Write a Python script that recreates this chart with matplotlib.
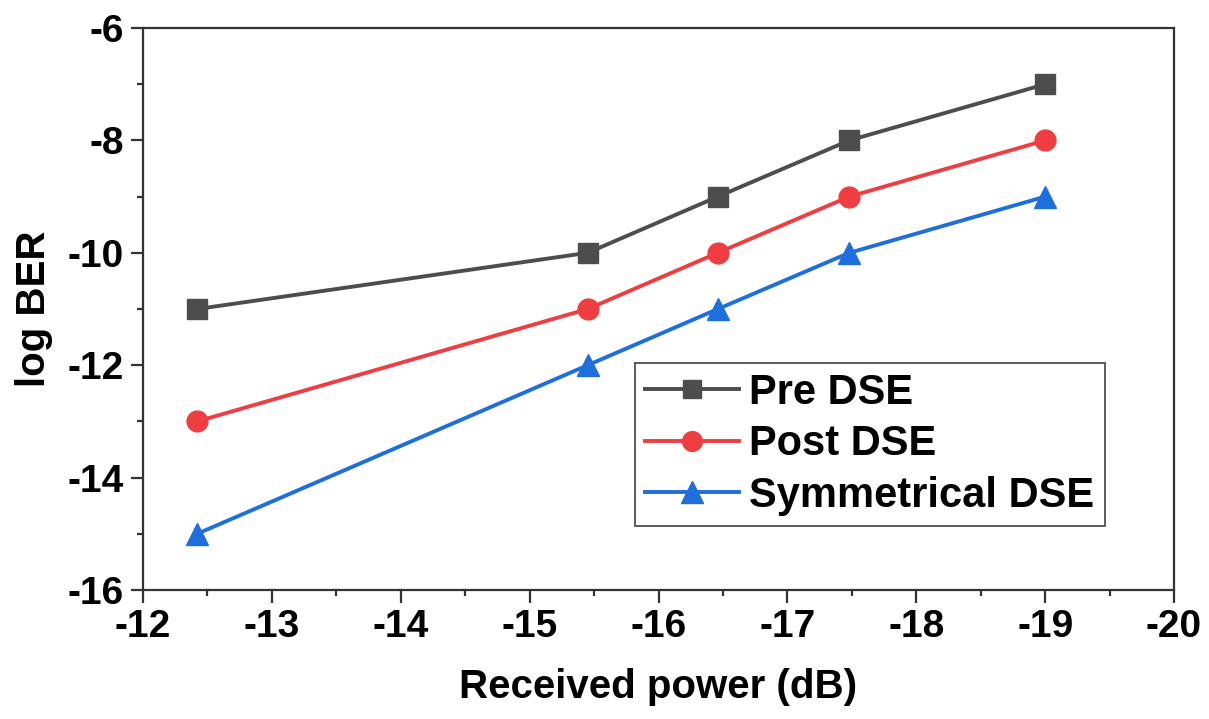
import matplotlib
matplotlib.use("Agg")
import matplotlib.pyplot as plt
from matplotlib.ticker import MultipleLocator

plt.rcParams['font.family'] = ['Liberation Sans', 'DejaVu Sans']
plt.rcParams['font.weight'] = 'bold'
plt.rcParams['axes.unicode_minus'] = False

received_power = [-12.42, -15.45, -16.46, -17.48, -19.0]
pre_dse = [-11, -10, -9, -8, -7]
post_dse = [-13, -11, -10, -9, -8]
sym_dse = [-15, -12, -11, -10, -9]
series_labels = ["Pre DSE", "Post DSE", "Symmetrical DSE"]

fig = plt.figure(figsize=(12.09, 7.19), dpi=100)
ax = fig.add_axes([0.1183, 0.1794, 0.8528, 0.7816])

ax.plot(received_power, pre_dse, color='#4d4d4d', lw=2.8, marker='s', ms=14,
        label=series_labels[0])
ax.plot(received_power, post_dse, color='#ef3e42', lw=2.8, marker='o', ms=15,
        label=series_labels[1])
ax.plot(received_power, sym_dse, color='#1e6fdb', lw=2.8, marker='^', ms=16,
        label=series_labels[2])

ax.set_xlim(-12, -20)
ax.set_ylim(-16, -6)
ax.xaxis.set_major_locator(MultipleLocator(1))
ax.xaxis.set_minor_locator(MultipleLocator(0.5))
ax.yaxis.set_major_locator(MultipleLocator(2))
ax.yaxis.set_minor_locator(MultipleLocator(1))

for s in ax.spines.values():
    s.set_linewidth(1.6)
    s.set_color('#333333')

ax.tick_params(which='major', direction='out', length=9, width=1.6,
               labelsize=28, pad=5, colors='#333333', labelcolor='black')
ax.tick_params(which='minor', direction='out', length=4.5, width=1.6,
               colors='#333333')

ax.set_xlabel("Received power (dB)", fontsize=29, fontweight='bold', labelpad=16)
ax.set_ylabel("log BER", fontsize=29, fontweight='bold', labelpad=10)

leg = ax.legend(loc='lower right', bbox_to_anchor=(0.933, 0.114),
                fontsize=30, frameon=True, fancybox=False, handlelength=2.25,
                handletextpad=0.25, borderpad=0.25, labelspacing=0.27,
                borderaxespad=0, markerscale=0.95)
leg.get_frame().set_edgecolor('#333333')
leg.get_frame().set_linewidth(1.4)

fig.savefig("out.png", dpi=100)
